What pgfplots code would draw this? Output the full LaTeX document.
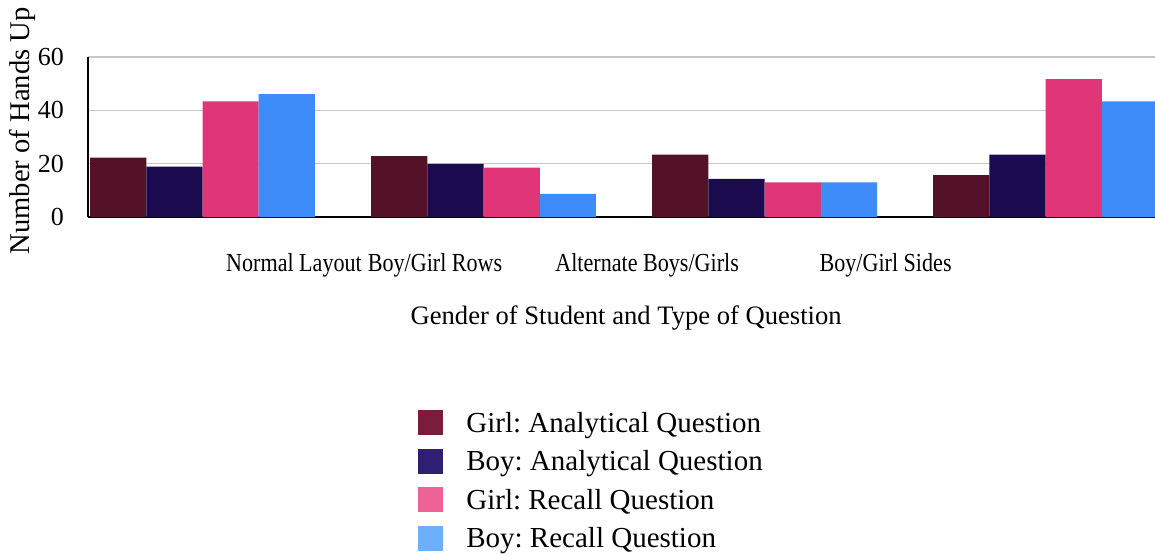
\documentclass[border=0pt]{standalone}
\usepackage{pgfplots}
\pgfplotsset{compat=1.18}
\usepackage{fontspec}
\setmainfont{Liberation Serif}
\newfontfamily\narrowfont[FakeStretch=0.85]{Liberation Serif}
\frenchspacing

\definecolor{girlA}{HTML}{541229}
\definecolor{boyA}{HTML}{1B0B4E}
\definecolor{girlR}{HTML}{E03576}
\definecolor{boyR}{HTML}{3E8BFA}
\definecolor{girlAl}{HTML}{7A1C3C}
\definecolor{boyAl}{HTML}{2E1F70}
\definecolor{girlRl}{HTML}{EE6295}
\definecolor{boyRl}{HTML}{6CB0FB}

\begin{document}
\begin{tikzpicture}
\useasboundingbox (0pt,0pt) rectangle (577.5pt,-277pt);
\begin{axis}[
    at={(44pt,-108.5pt)}, anchor=south west,
    scale only axis,
    width=536pt, height=80pt,
    ybar=0pt, bar width=0.2,
    xmin=-0.4075, xmax=3.407,
    ymin=0, ymax=60,
    ytick={0,20,40,60},
    xtick={0.3256,0.8274,1.5819,2.4306},
    xticklabels={Normal Layout, Boy/Girl Rows, Alternate Boys/Girls, Boy/Girl Sides},
    xticklabel style={anchor=base, yshift=-27.3pt, font=\narrowfont\fontsize{13}{15}\selectfont},
    yticklabel style={font=\fontsize{13}{15}\selectfont, xshift=-8.5pt},
    /pgf/number format/assume math mode=true,
    major tick length=0pt,
    axis x line*=bottom, axis y line*=left,
    axis line style={black, line width=0.8pt, -},
    ymajorgrids, grid style={color=black!22, line width=0.75pt},
    xlabel={Gender of Student and Type of Question},
    xlabel style={at={(axis description cs:0.502,0)}, anchor=base, yshift=-53.6pt, font=\fontsize{13.3}{15}\selectfont},
    ylabel={Number of Hands Up},
    ylabel style={at={(axis description cs:-0.0546,-0.278)}, anchor=base west, rotate=0, font=\fontsize{14.3}{16}\selectfont},
    legend style={at={(axis description cs:0.3078,-1.2)}, anchor=north west,
        draw=none, fill=none, inner sep=0pt, row sep=4.25pt, column sep=11.5pt,
        font=\fontsize{14.5}{16}\selectfont,
        nodes={inner sep=0pt, text height=11.5pt, text depth=3.5pt, anchor=base west}},
    legend cell align=left,
    legend image code/.code={\fill[#1] (0pt,-1.45pt) rectangle (12.5pt,11.05pt);},
]
\addplot[fill=girlA, draw=none, bar shift=-0.3, forget plot] coordinates {(0,22.3) (1,22.8) (2,23.4) (3,15.7)};
\addplot[fill=boyA, draw=none, bar shift=-0.1, forget plot] coordinates {(0,18.9) (1,19.9) (2,14.3) (3,23.4)};
\addplot[fill=girlR, draw=none, bar shift=0.1, forget plot] coordinates {(0,43.4) (1,18.5) (2,13.0) (3,51.7)};
\addplot[fill=boyR, draw=none, bar shift=0.3, forget plot] coordinates {(0,46.1) (1,8.7) (2,13.0) (3,43.4)};
\addlegendimage{fill=girlAl, draw=none}
\addlegendentry{Girl: Analytical Question}
\addlegendimage{fill=boyAl, draw=none}
\addlegendentry{Boy: Analytical Question}
\addlegendimage{fill=girlRl, draw=none}
\addlegendentry{Girl: Recall Question}
\addlegendimage{fill=boyRl, draw=none}
\addlegendentry{Boy: Recall Question}
\end{axis}
\end{tikzpicture}
\end{document}
